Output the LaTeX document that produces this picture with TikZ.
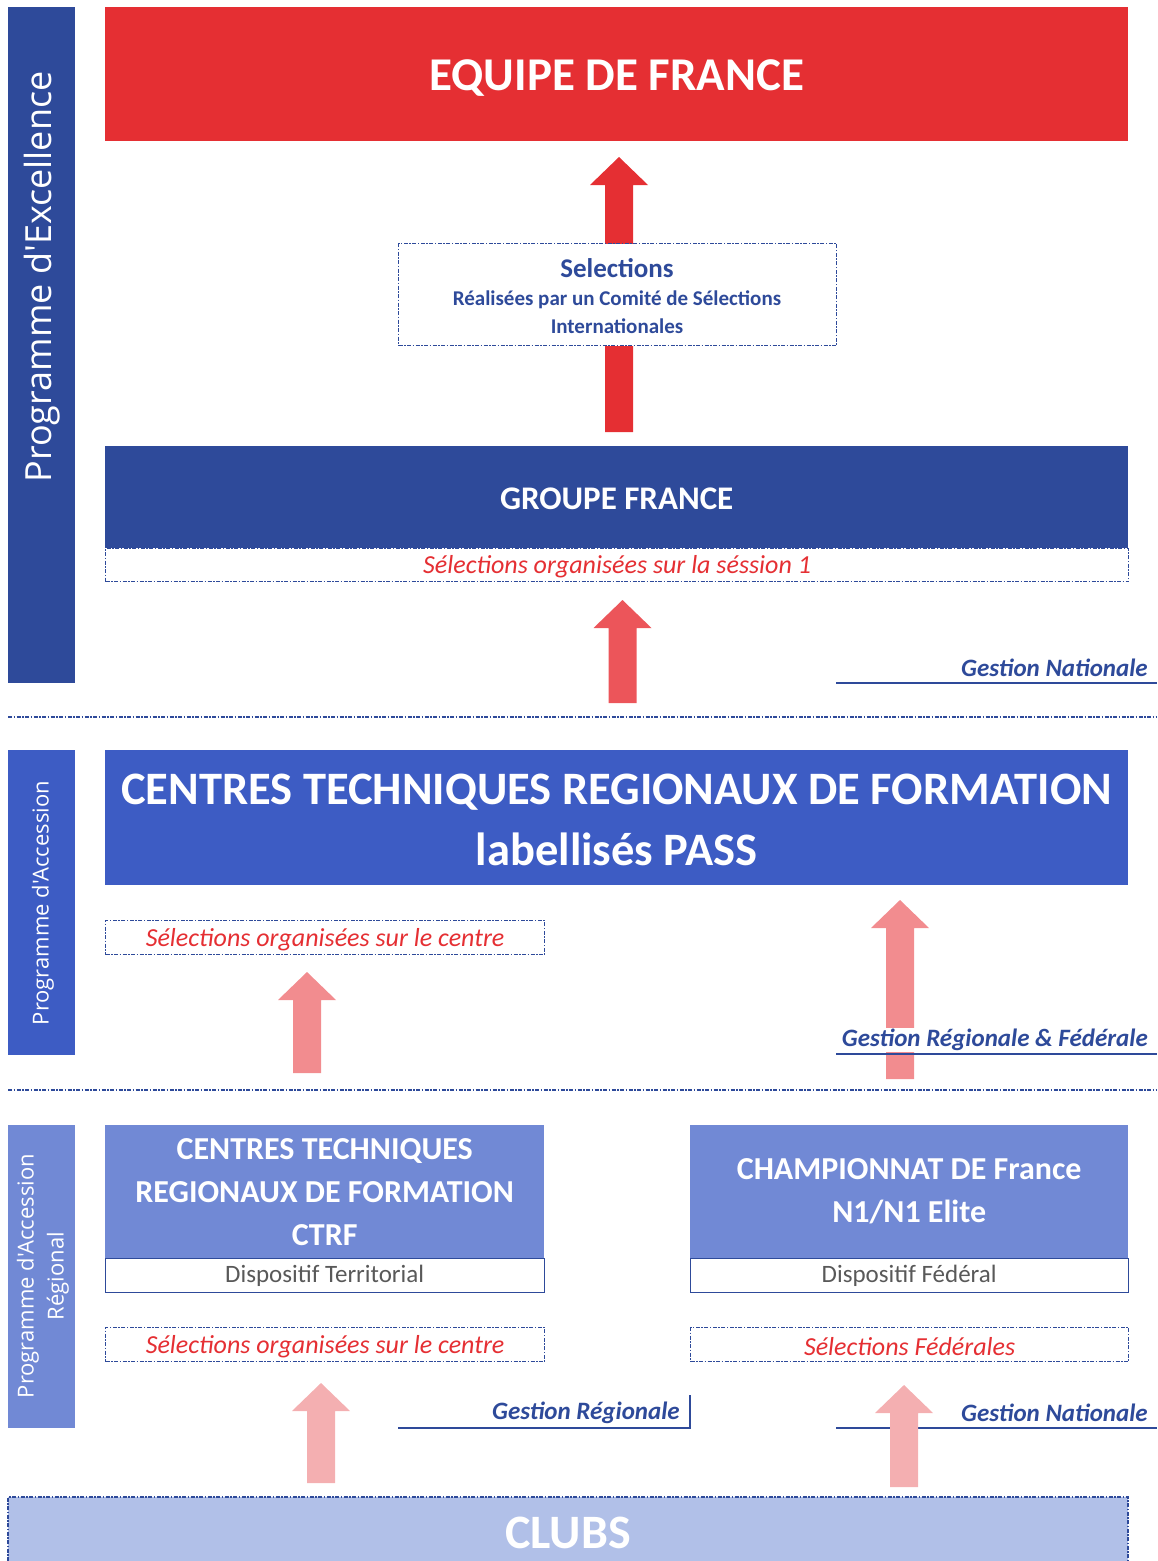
\documentclass[tikz,border=0pt]{standalone}
\usepackage{fontspec}
\setmainfont{Carlito}
\newfontfamily\sidefont{Open Sans}
\usetikzlibrary{positioning}

\definecolor{darkblue}{HTML}{2E4A9A}
\definecolor{midblue}{HTML}{3D5CC4}
\definecolor{lightblue}{HTML}{7189D5}
\definecolor{paleblue}{HTML}{B1C0E8}
\definecolor{flagred}{HTML}{E52F33}
\definecolor{arrowred}{HTML}{EC555A}
\definecolor{arrowpink}{HTML}{F28C8F}
\definecolor{arrowpale}{HTML}{F4AFB1}
\definecolor{dispgray}{HTML}{595959}

% block arrow: (x centre, y tip)(y foot)
\def\blockarrow[#1](#2,#3)(#4){\fill[#1] (#2-14,#4) -- (#2-14,#3+28) -- (#2-29,#3+28) -- (#2,#3) -- (#2+29,#3+28) -- (#2+14,#3+28) -- (#2+14,#4) -- cycle;}

\tikzset{
  fullbox/.style={inner sep=0pt, anchor=north west, text=white, font=\bfseries, align=center},
  selbox/.style={draw=darkblue, line width=1.2pt, dash pattern=on 4pt off 1.5pt on 1.5pt off 1.5pt, fill=white, inner sep=0pt, anchor=north west},
  dispobox/.style={draw=darkblue, line width=1pt, fill=white, text=dispgray, inner sep=0pt, font=\fontsize{25}{27}\selectfont},
  seltext/.style={text=flagred, font=\itshape\fontsize{26}{28}\selectfont, yshift=-2pt},
  gestion/.style={text=darkblue, font=\bfseries\itshape\fontsize{25}{27}\selectfont, anchor=east, inner sep=2pt},
  sidetext/.style={text=white, rotate=90, align=center},
  sepline/.style={darkblue, line width=1.3pt, dash pattern=on 4pt off 1.5pt on 1.5pt off 1.5pt},
  gline/.style={darkblue, line width=1.2pt}
}

\begin{document}
\begin{tikzpicture}[x=1pt,y=-1pt]
  \useasboundingbox (0,0) rectangle (1157,1561);

  %%%%% SIDE BARS %%%%%
  \fill[darkblue] (8,7) rectangle (75,683);
  \node[sidetext, font=\sidefont\fontsize{36}{40}\selectfont] (excellence) at (42,277) {Programme d'Excellence};
  \fill[midblue] (8,750) rectangle (75,1055);
  \node[sidetext, font=\sidefont\fontsize{22}{24}\selectfont] (accession) at (43,903) {Programme d'Accession};
  \fill[lightblue] (8,1125) rectangle (75,1428);
  \node[sidetext, font=\sidefont\fontsize{22}{30}\selectfont] (regional) at (43,1276) {Programme d'Accession\\Régional};

  %%%%% SEPARATORS %%%%%
  \draw[sepline] (8,717) -- (1157,717);
  \draw[sepline] (8,1090) -- (1157,1090);

  %%%%% EXCELLENCE %%%%%
  \node[fullbox, fill=flagred, minimum width=1023, minimum height=134] (equipe) at (105,7) {};
  \node[text=white, font=\bfseries\fontsize{47}{50}\selectfont, yshift=-4pt] (equipetext) at (equipe.center) {EQUIPE DE FRANCE};
  \blockarrow[flagred](619,157)(432)
  \node[selbox, minimum width=438, minimum height=102] (selbox) at (398,243) {};
  \node[text=darkblue, font=\bfseries\fontsize{27}{30}\selectfont] (seltitle) at (617,268) {Selections};
  \node[text=darkblue, font=\bfseries\fontsize{21}{28}\selectfont, align=center] (selsub) at (617,312) {Réalisées par un Comité de Sélections\\Internationales};

  \node[fullbox, fill=darkblue, minimum width=1023, minimum height=102] (groupe) at (105,446) {};
  \node[text=white, font=\bfseries\fontsize{33}{36}\selectfont, yshift=-2pt] (groupetext) at (groupe.center) {GROUPE FRANCE};
  \node[selbox, minimum width=1023, minimum height=33] (session) at (105,548) {};
  \node[seltext] at (session.center) {Sélections organisées sur la séssion 1};
  \blockarrow[arrowred](622.5,600)(703)
  \draw[gline] (836,683) -- (1157,683);
  \node[gestion] (gnat) at (1150,668) {Gestion Nationale};

  %%%%% ACCESSION %%%%%
  \node[fullbox, fill=midblue, minimum width=1023, minimum height=135] (ctrfpass) at (105,750) {};
  \node[text=white, font=\bfseries\fontsize{46.5}{61}\selectfont, align=center, yshift=-2pt] (ctrfpasstext) at (ctrfpass.center) {CENTRES TECHNIQUES REGIONAUX DE FORMATION\\labellisés PASS};
  \node[selbox, minimum width=439, minimum height=34] (centre) at (105,920) {};
  \node[seltext] at (centre.center) {Sélections organisées sur le centre};
  \blockarrow[arrowpink](307,972)(1073)
  \blockarrow[arrowpink](900,900)(1079)
  \node[gestion, fill=white, inner ysep=1pt] (gregfed) at (1150,1040) {Gestion Régionale \& Fédérale};
  \draw[gline] (836,1054) -- (1157,1054);

  %%%%% ACCESSION REGIONAL %%%%%
  \node[fullbox, fill=lightblue, minimum width=439, minimum height=133, font=\bfseries\fontsize{32}{43}\selectfont] (ctrf) at (105,1125) {CENTRES TECHNIQUES\\REGIONAUX DE FORMATION\\CTRF};
  \node[dispobox, minimum width=439, minimum height=34, below=0pt of ctrf] (territorial) {Dispositif Territorial};
  \node[fullbox, fill=lightblue, minimum width=438, minimum height=133, font=\bfseries\fontsize{32}{43}\selectfont] (championnat) at (690,1125) {CHAMPIONNAT DE France\\N1/N1 Elite};
  \node[dispobox, minimum width=438, minimum height=34, below=0pt of championnat] (federal) {Dispositif Fédéral};

  \node[selbox, minimum width=439, minimum height=34] (centre2) at (105,1327) {};
  \node[seltext] at (centre2.center) {Sélections organisées sur le centre};
  \node[selbox, minimum width=438, minimum height=34] (federales) at (690,1327) {};
  \node[seltext] at (federales.center) {Sélections Fédérales};

  \draw[gline] (398,1428) -- (690,1428) -- (690,1395);
  \node[gestion] (greg) at (682,1413) {Gestion Régionale};
  \draw[gline] (836,1428) -- (1157,1428);
  \node[gestion] (gnat2) at (1150,1413) {Gestion Nationale};
  \blockarrow[arrowpale](321,1383)(1483)
  \blockarrow[arrowpale](904,1385)(1487)

  %%%%% CLUBS %%%%%
  \fill[paleblue] (8,1497) rectangle (1128,1561);
  \draw[sepline] (8,1561) -- (8,1497) -- (1128,1497) -- (1128,1561);
  \node[text=white, font=\bfseries\fontsize{48}{50}\selectfont] (clubs) at (568,1533) {CLUBS};
\end{tikzpicture}
\end{document}
